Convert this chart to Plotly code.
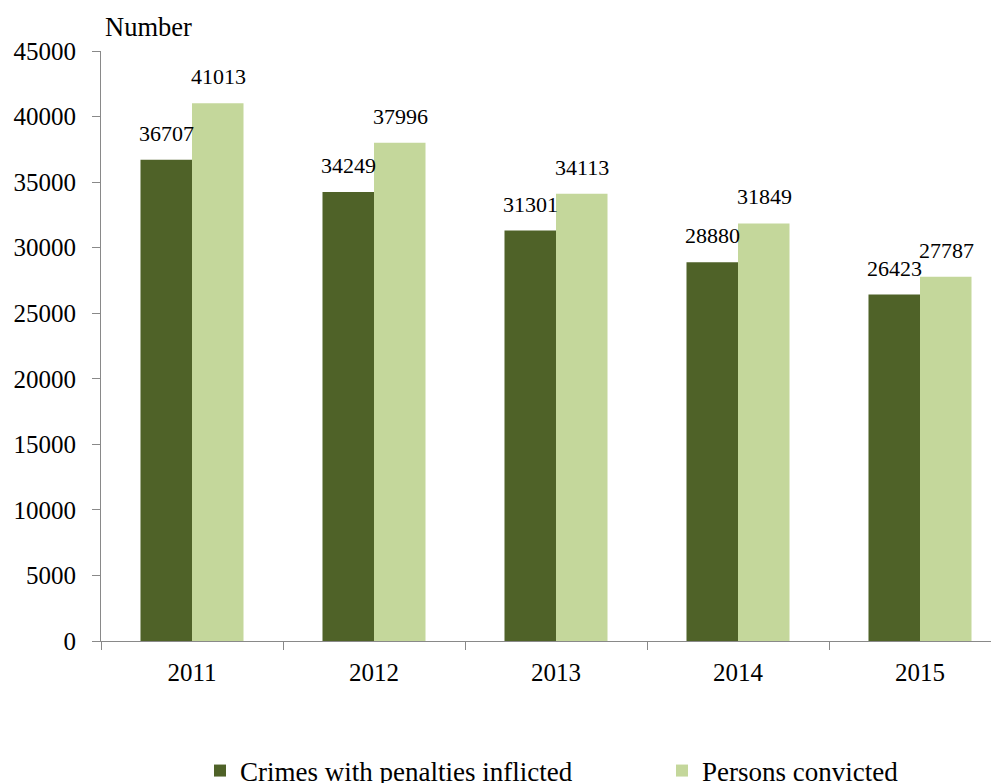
import plotly.graph_objects as go

years = ["2011", "2012", "2013", "2014", "2015"]
crimes = [36707, 34249, 31301, 28880, 26423]
persons = [41013, 37996, 34113, 31849, 27787]
series_names = ["Crimes with penalties inflicted", "Persons convicted"]
y_ticks = [0, 5000, 10000, 15000, 20000, 25000, 30000, 35000, 40000, 45000]

dark = "#4F6228"
light = "#C4D79B"
axis_col = "#898989"
font_family = "Liberation Serif, Times New Roman, serif"

# page offset of the figure inside the html body (default body margin)
OFF = 8
W, H = 999 - OFF, 783 - OFF
# plot-area geometry in figure pixels
L, T = 101 - OFF, 51 - OFF
BOTTOM = 641 - OFF
B = H - BOTTOM
PW, PH = W - L, BOTTOM - T
CAT_W = 182


def px_x(p):
    """image pixel x -> paper x"""
    return (p - OFF - L) / PW


def px_y(p):
    """image pixel y -> paper y"""
    return (BOTTOM - (p - OFF)) / PH


fig = go.Figure()
fig.add_trace(go.Bar(x=years, y=crimes, name=series_names[0], marker_color=dark,
                     marker_line_width=0, legend="legend"))
fig.add_trace(go.Bar(x=years, y=persons, name=series_names[1], marker_color=light,
                     marker_line_width=0, legend="legend2"))

lab_font = dict(size=22, color="black", family=font_family)
annotations = []
for i, yr in enumerate(years):
    annotations.append(dict(x=i, y=crimes[i], xref="x", yref="y", text=str(crimes[i]),
                            showarrow=False, xshift=-26, yshift=12, yanchor="bottom",
                            font=lab_font))
    annotations.append(dict(x=i, y=persons[i], xref="x", yref="y", text=str(persons[i]),
                            showarrow=False, xshift=26, yshift=12, yanchor="bottom",
                            font=lab_font))
annotations.append(dict(x=px_x(103), y=px_y(27), xref="paper", yref="paper", text="Number",
                        showarrow=False, xanchor="left", yanchor="middle",
                        font=dict(size=26.5, color="black", family=font_family)))

legend_font = dict(size=27, family=font_family, color="black")
fig.update_layout(
    width=W, height=H,
    margin=dict(l=L, r=0, t=T, b=B, autoexpand=False),
    paper_bgcolor="white", plot_bgcolor="white",
    barmode="group", bargap=0.434, bargroupgap=0,
    font=dict(family=font_family, color="black"),
    showlegend=True,
    legend=dict(orientation="h", x=px_x(200), xanchor="left",
                y=px_y(771), yanchor="middle", font=legend_font,
                bgcolor="rgba(0,0,0,0)"),
    legend2=dict(orientation="h", x=px_x(662), xanchor="left",
                 y=px_y(771), yanchor="middle", font=legend_font,
                 bgcolor="rgba(0,0,0,0)"),
    annotations=annotations,
)
fig.update_xaxes(
    type="category",
    range=[-0.5, -0.5 + PW / CAT_W],
    showline=True, linecolor=axis_col, linewidth=1,
    ticks="outside", tickson="boundaries", ticklen=8, tickcolor=axis_col,
    tickfont=dict(size=25, family=font_family, color="black"),
    showgrid=False, zeroline=False, ticklabelstandoff=9,
)
fig.update_yaxes(
    range=[0, 45000], tickvals=y_ticks, ticktext=[str(v) for v in y_ticks],
    showline=True, linecolor=axis_col, linewidth=1,
    ticks="outside", ticklen=8, tickcolor=axis_col,
    tickfont=dict(size=25, family=font_family, color="black"),
    showgrid=False, zeroline=False, ticklabelstandoff=11,
)

fig.write_html("out.html")
